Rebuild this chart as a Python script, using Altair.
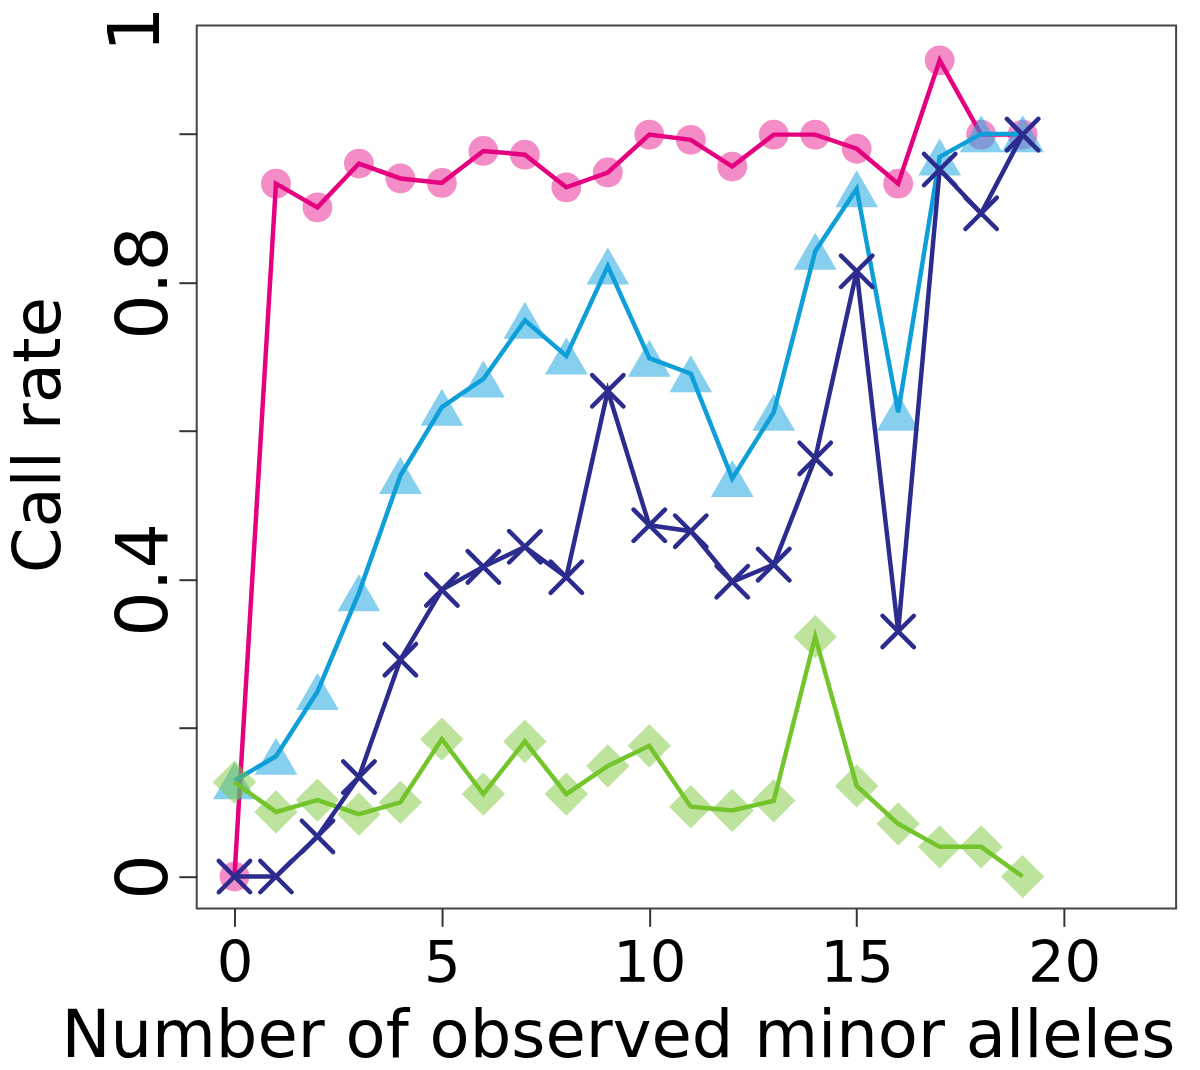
import altair as alt
import pandas as pd

# ---------------- data ----------------
minor_alleles = list(range(20))
series_pink = [0.0, 0.933, 0.901, 0.960, 0.940, 0.934, 0.977, 0.972, 0.928, 0.948,
               0.999, 0.992, 0.956, 0.999, 0.999, 0.980, 0.933, 1.099, 0.999, 0.999]
series_lightblue = [0.129, 0.162, 0.249, 0.382, 0.540, 0.632, 0.670, 0.749, 0.701, 0.822,
                    0.698, 0.677, 0.536, 0.625, 0.842, 0.926, 0.625, 0.969, 1.0, 1.0]
series_darkblue = [0.0, 0.0, 0.054, 0.134, 0.292, 0.386, 0.417, 0.444, 0.403, 0.654,
                   0.473, 0.465, 0.397, 0.420, 0.563, 0.815, 0.330, 0.952, 0.893, 0.999]
series_green = [0.127, 0.087, 0.103, 0.084, 0.100, 0.185, 0.111, 0.182, 0.111, 0.149,
                0.176, 0.094, 0.089, 0.102, 0.323, 0.122, 0.071, 0.040, 0.040, 0.0]

x_tick_values = [0, 5, 10, 15, 20]
y_tick_values = [0, 0.2, 0.4, 0.6, 0.8, 1.0]
y_tick_labels = ["0", "", "0.4", "", "0.8", ""]
top_label_text = ["1"]
top_label_value = [1.141]

x_title = "Number of observed minor alleles"
y_title = "Call rate"

# ---------------- build tables ----------------
rows = []
for name, vals in [("pink", series_pink), ("lightblue", series_lightblue),
                   ("green", series_green), ("darkblue", series_darkblue)]:
    for xv, yv in zip(minor_alleles, vals):
        rows.append({"x": xv, "y": yv, "series": name})
df = pd.DataFrame(rows)
top_df = pd.DataFrame({"y": top_label_value, "label": top_label_text})

label_expr = " : ".join(
    f"abs(datum.value - {v}) < 1e-6 ? '{t}'" for v, t in zip(y_tick_values, y_tick_labels)
) + " : ''"

FONT = "DejaVu Sans"

x_enc = alt.X(
    "x:Q",
    scale=alt.Scale(domain=[-0.91, 22.7], nice=False, zero=False),
    axis=alt.Axis(
        values=x_tick_values, title=x_title, grid=False, domain=False,
        tickSize=18, tickWidth=2, tickColor="#333333",
        labelFont=FONT, labelFontSize=58, labelColor="#000000",
        labelBaseline="alphabetic", labelPadding=56, labelFlush=False, labelOverlap=False,
        titleFont=FONT, titleFontSize=66, titleFontWeight="normal", titleColor="#000000",
        titleX=424, titleY=149, titleAlign="center", titleBaseline="alphabetic",
    ),
)
y_enc = alt.Y(
    "y:Q",
    scale=alt.Scale(domain=[-0.043, 1.146], nice=False, zero=False),
    axis=alt.Axis(
        values=y_tick_values, labelExpr=label_expr, title=y_title, grid=False, domain=False,
        tickSize=18, tickWidth=2, tickColor="#333333",
        labelFont=FONT, labelFontSize=72, labelColor="#000000",
        labelAngle=270, labelAlign="center", labelBaseline="alphabetic",
        labelPadding=12, labelOverlap=False, labelFlush=False,
        titleFont=FONT, titleFontSize=66, titleFontWeight="normal", titleColor="#000000",
        titleAngle=270, titleX=-138, titleY=412, titleAlign="center", titleBaseline="alphabetic",
    ),
)

base = alt.Chart(df)


def series_layers(name, line_color, shape, size, fill_color, fill_opacity, filled=True, stroke_w=4.5):
    sub = base.transform_filter(alt.datum.series == name)
    if filled:
        pts = sub.mark_point(shape=shape, size=size, filled=True, color=fill_color,
                             opacity=fill_opacity, strokeWidth=0)
    else:
        pts = sub.mark_point(shape=shape, size=size, filled=False, color=fill_color,
                             opacity=fill_opacity, strokeWidth=stroke_w, strokeCap="round")
    pts = pts.encode(x=x_enc, y=y_enc)
    line = sub.mark_line(color=line_color, strokeWidth=4.5, strokeJoin="miter").encode(x=x_enc, y=y_enc)
    return [pts, line]


layers = []
layers += series_layers("pink", "#E4007F", "circle", 900, "#E8108A", 0.48)
layers += series_layers("lightblue", "#0E9FD9", "triangle-up", 1850, "#22A8E0", 0.55)
layers += series_layers("green", "#74C42C", "diamond", 1900, "#7CC83A", 0.5)
layers += series_layers("darkblue", "#2B2C8E", "M-1,-1L1,1M-1,1L1,-1", 1000, "#2B2C8E", 1.0,
                        filled=False, stroke_w=4.5)

top_text = alt.Chart(top_df).mark_text(
    font=FONT, fontSize=72, angle=270, align="center", baseline="alphabetic",
    color="#000000", clip=False,
).encode(x=alt.value(-38), y=y_enc, text="label:N")
layers.append(top_text)

chart = alt.layer(*layers).properties(
    width=986, height=889,
    padding={"left": 190, "top": 14, "right": 16, "bottom": 151},
    autosize=alt.AutoSizeParams(type="none"),
).configure(
    background="white",
    view=alt.ViewConfig(stroke="#444444", strokeWidth=2),
)

chart.save("out.html", embed_options={"renderer": "svg", "actions": False})
